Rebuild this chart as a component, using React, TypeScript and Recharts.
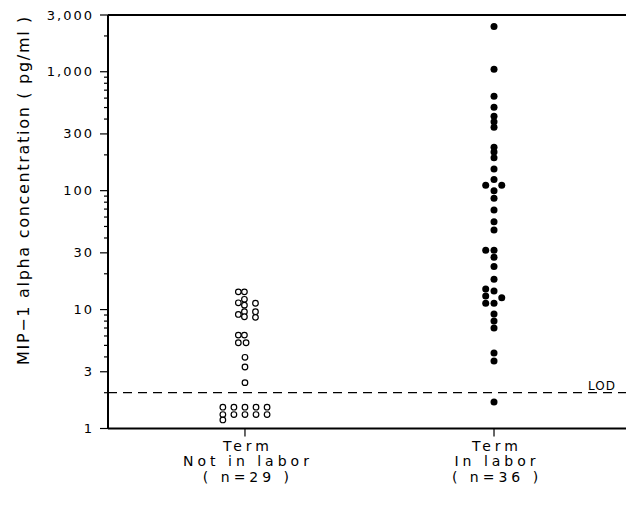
import React from 'react';
import { ScatterChart, Scatter, XAxis, YAxis, ReferenceLine } from 'recharts';

// ---- data ----
const groupLabels = [
  ['Term', 'Not in labor', '( n=29 )'],
  ['Term', 'In labor', '( n=36 )'],
];
const groupPositions = [1, 2];

// Term, not in labor (open circles): concentration values (pg/ml)
const notInLaborValues = [
  14.1, 14.1,
  11.4, 12.2, 10.9, 11.3,
  9.1, 9.6, 8.7, 9.6, 8.6,
  6.1, 6.1, 5.26, 5.26,
  3.97, 3.29, 2.43,
  1.51, 1.51, 1.51, 1.51, 1.51,
  1.31, 1.31, 1.31, 1.31, 1.31,
  1.18,
];
// horizontal jitter column of each point (in marker-width units)
const notInLaborColumns = [
  -1.2, -0.1,
  -1.2, -0.1, -0.1, 1.9,
  -1.2, -0.1, -0.1, 1.9, 1.9,
  -1.2, -0.1, -1.2, 0.2,
  0, 0, 0,
  -4, -2, 0, 2, 4,
  -4, -2, 0, 2, 4,
  -4,
];

// Term, in labor (filled circles)
const inLaborValues = [
  2400, 1050, 623, 503, 423, 380, 342, 232, 211, 189, 152, 124,
  111, 111, 100, 86.5, 68.6, 54.9, 46.6, 31.6, 31.6, 27.6, 23.0, 18.0,
  14.9, 14.3, 13.0, 12.6, 11.3, 11.3, 9.17, 8.0, 7.0, 4.31, 3.69, 1.67,
];
const inLaborColumns = [
  0, 0, 0, 0, 0, 0, 0, 0, 0, 0, 0, 0,
  -1.5, 1.4, 0, 0, 0, 0, 0, -1.5, 0, 0, 0, 0,
  -1.5, 0, -1.5, 1.4, -1.5, 0, 0, 0, 0, 0, 0, 0,
];

const majorTicks = [1, 3, 10, 30, 100, 300, 1000, 3000];
const majorTickLabels = ['1', '3', '10', '30', '100', '300', '1,000', '3,000'];
const minorTicks = [
  2, 4, 5, 6, 7, 8, 9,
  20, 40, 50, 60, 70, 80, 90,
  200, 400, 500, 600, 700, 800, 900,
  2000,
];
const lodValue = 2;
const yAxisTitle = 'MIP\u22121 alpha concentration ( pg/ml )';

// ---- layout constants ----
const COL_UNIT = 0.0222;
const FONT = '"DejaVu Sans", sans-serif';

const notInLaborData = notInLaborValues.map((v, i) => ({
  x: groupPositions[0] + notInLaborColumns[i] * COL_UNIT,
  y: v,
}));
const inLaborData = inLaborValues.map((v, i) => ({
  x: groupPositions[1] + inLaborColumns[i] * COL_UNIT,
  y: v,
}));

const allYTicks = [...majorTicks, ...minorTicks].sort((a, b) => a - b);

const YTick = (props: any) => {
  const { x, y, payload } = props;
  const v = payload.value;
  const idx = majorTicks.indexOf(v);
  const major = idx >= 0;
  return (
    <g>
      <line x1={x} x2={x - (major ? 8 : 4)} y1={y} y2={y} stroke="#000" strokeWidth={1.2} />
      {major && (
        <text
          x={x - 14}
          y={y + 4.5}
          textAnchor="end"
          fontFamily={FONT}
          fontSize={13}
          letterSpacing={2}
          fill="#000"
        >
          {majorTickLabels[idx]}
        </text>
      )}
    </g>
  );
};

const XTick = (props: any) => {
  const { x, y, payload } = props;
  const idx = groupPositions.indexOf(payload.value);
  const lines = groupLabels[idx] || [];
  return (
    <g>
      <line x1={x} x2={x} y1={y} y2={y + 8} stroke="#000" strokeWidth={1.2} />
      <text
        x={x + 3}
        y={y}
        textAnchor="middle"
        fontFamily={FONT}
        fontSize={14}
        letterSpacing={4}
        fill="#000"
      >
        {lines.map((l, i) => (
          <tspan key={i} x={x + 3} dy={i === 0 ? 22 : 15.5}>
            {l}
          </tspan>
        ))}
      </text>
    </g>
  );
};

const OpenDot = (props: any) => (
  <circle cx={props.cx} cy={props.cy} r={2.8} fill="#fff" stroke="#000" strokeWidth={1.2} />
);
const FilledDot = (props: any) => (
  <circle cx={props.cx} cy={props.cy} r={3.5} fill="#000" stroke="none" />
);

export default function App() {
  return (
    <div style={{ position: 'absolute', left: 0, top: 0, background: '#fff' }}>
      <ScatterChart
        width={626}
        height={505}
        margin={{ top: 15, right: 0, bottom: 0, left: 0 }}
      >
        <XAxis
          type="number"
          dataKey="x"
          domain={[0.45, 2.53]}
          ticks={groupPositions}
          interval={0}
          allowDataOverflow
          height={76.5}
          axisLine={{ stroke: '#000', strokeWidth: 2 }}
          tickLine={false}
          tickSize={0}
          tickMargin={0}
          tick={<XTick />}
        />
        <YAxis
          type="number"
          dataKey="y"
          scale="log"
          domain={[1, 3000]}
          ticks={allYTicks}
          interval={0}
          allowDataOverflow
          width={108}
          axisLine={{ stroke: '#000', strokeWidth: 2 }}
          tickLine={false}
          tickSize={0}
          tickMargin={0}
          tick={<YTick />}
          label={{
            content: () => (
              <text
                x={29}
                y={190}
                transform="rotate(-90 29 190)"
                textAnchor="middle"
                fontFamily={FONT}
                fontSize={16}
                letterSpacing={1.7}
                fill="#000"
              >
                {yAxisTitle}
              </text>
            ),
          }}
        />
        <ReferenceLine y={3000} stroke="#000" strokeWidth={2} />
        <ReferenceLine
          y={lodValue}
          stroke="#000"
          strokeWidth={1.2}
          strokeDasharray="9 6"
          label={{
            content: (p: any) => {
              const vb = p.viewBox || {};
              return (
                <text
                  x={(vb.x || 0) + (vb.width || 0) - 10}
                  y={(vb.y || 0) - 3}
                  textAnchor="end"
                  fontFamily={FONT}
                  fontSize={12}
                  letterSpacing={1}
                  fill="#000"
                >
                  LOD
                </text>
              );
            },
          }}
        />
        <Scatter data={notInLaborData} shape={<OpenDot />} isAnimationActive={false} />
        <Scatter data={inLaborData} shape={<FilledDot />} isAnimationActive={false} />
      </ScatterChart>
    </div>
  );
}
